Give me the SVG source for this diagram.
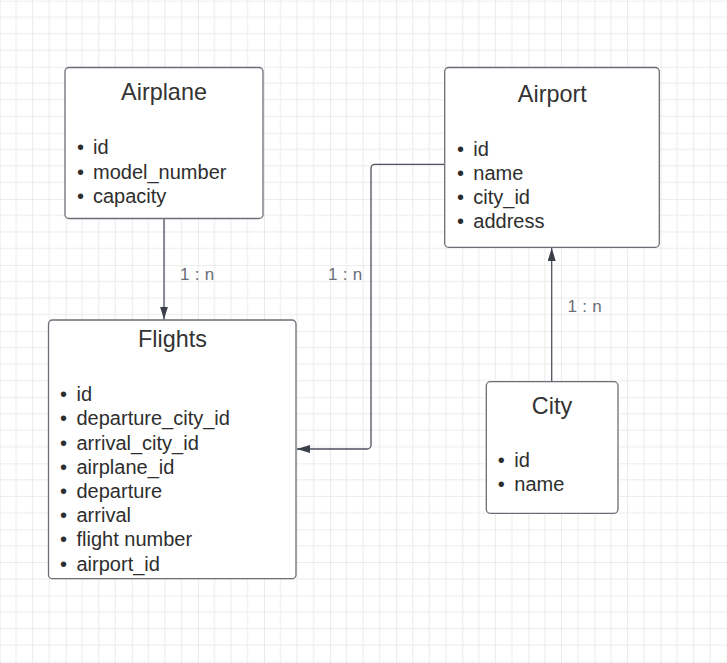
<svg xmlns="http://www.w3.org/2000/svg" width="727" height="663" viewBox="0 0 727 663">
<style>
.box{fill:#ffffff;stroke:#6b6e76;stroke-width:1.3}
.title{font-family:"Liberation Sans",Arial,sans-serif;font-size:23.4px;fill:#333333;text-anchor:middle}
.item{font-family:"Liberation Sans",Arial,sans-serif;font-size:20px;fill:#2e2e2e}
.edge{fill:none;stroke:#4d525c;stroke-width:1.3}
.lbl{font-family:"Liberation Sans",Arial,sans-serif;font-size:17px;letter-spacing:0.3px;fill:#6a6e78}
</style>
<defs>
<pattern id="grid" patternUnits="userSpaceOnUse" x="-0.4" y="0.6" width="66.1" height="66.1">
<path d="M16.525 0V66.1M33.05 0V66.1M49.575 0V66.1M0 16.525H66.1M0 33.05H66.1M0 49.575H66.1" stroke="#ebebeb" stroke-width="1" fill="none"/>
<path d="M0 0V66.1M0 0H66.1" stroke="#dcdcdc" stroke-width="1.2" fill="none"/>
</pattern>
<marker id="arr" viewBox="0 0 13 8" refX="13" refY="4" markerWidth="13" markerHeight="8" markerUnits="userSpaceOnUse" orient="auto">
<path d="M0 0L13 4L0 8Z" fill="#3a3f4a"/>
</marker>
</defs>
<rect width="727" height="663" fill="#ffffff"/>
<rect width="727" height="663" fill="url(#grid)"/>
<g id="connectors">
<path class="edge" d="M164 219V319.5" marker-end="url(#arr)"/>
<path class="edge" d="M444.7 164.3H375a4 4 0 0 0-4 4V445a4 4 0 0 1-4 4H297" marker-end="url(#arr)"/>
<path class="edge" d="M551.7 381.7V248" marker-end="url(#arr)"/>
<text class="lbl" x="180" y="280">1 : n</text>
<text class="lbl" x="328" y="280">1 : n</text>
<text class="lbl" x="567.5" y="312">1 : n</text>
</g>
<g id="airplane">
<rect class="box" x="65" y="67.5" width="198" height="151" rx="4"/>
<text class="title" x="164" y="100">Airplane</text>
<text class="item" x="77" y="154.3">•</text><text class="item" x="93" y="154.3">id</text>
<text class="item" x="77" y="178.8">•</text><text class="item" x="93" y="178.8">model_number</text>
<text class="item" x="77" y="203.3">•</text><text class="item" x="93" y="203.3">capacity</text>
</g>
<g id="airport">
<rect class="box" x="444.7" y="67.5" width="214.6" height="179.8" rx="4"/>
<text class="title" x="552.3" y="101.7">Airport</text>
<text class="item" x="457" y="155.7">•</text><text class="item" x="473.3" y="155.7">id</text>
<text class="item" x="457" y="180">•</text><text class="item" x="473.3" y="180">name</text>
<text class="item" x="457" y="204.2">•</text><text class="item" x="473.3" y="204.2">city_id</text>
<text class="item" x="457" y="228.4">•</text><text class="item" x="473.3" y="228.4">address</text>
</g>
<g id="flights">
<rect class="box" x="48.5" y="320" width="247.5" height="258.7" rx="4"/>
<text class="title" x="172.5" y="347">Flights</text>
<text class="item" x="60" y="401.2">•</text><text class="item" x="76.5" y="401.2">id</text>
<text class="item" x="60" y="425.4">•</text><text class="item" x="76.5" y="425.4">departure_city_id</text>
<text class="item" x="60" y="449.6">•</text><text class="item" x="76.5" y="449.6">arrival_city_id</text>
<text class="item" x="60" y="473.8">•</text><text class="item" x="76.5" y="473.8">airplane_id</text>
<text class="item" x="60" y="498">•</text><text class="item" x="76.5" y="498">departure</text>
<text class="item" x="60" y="522.2">•</text><text class="item" x="76.5" y="522.2">arrival</text>
<text class="item" x="60" y="546.4">•</text><text class="item" x="76.5" y="546.4">flight number</text>
<text class="item" x="60" y="570.6">•</text><text class="item" x="76.5" y="570.6">airport_id</text>
</g>
<g id="city">
<rect class="box" x="486.3" y="381.7" width="131.7" height="131.6" rx="4"/>
<text class="title" x="552" y="413.5">City</text>
<text class="item" x="497.7" y="466.7">•</text><text class="item" x="514.3" y="466.7">id</text>
<text class="item" x="497.7" y="490.8">•</text><text class="item" x="514.3" y="490.8">name</text>
</g>
</svg>
